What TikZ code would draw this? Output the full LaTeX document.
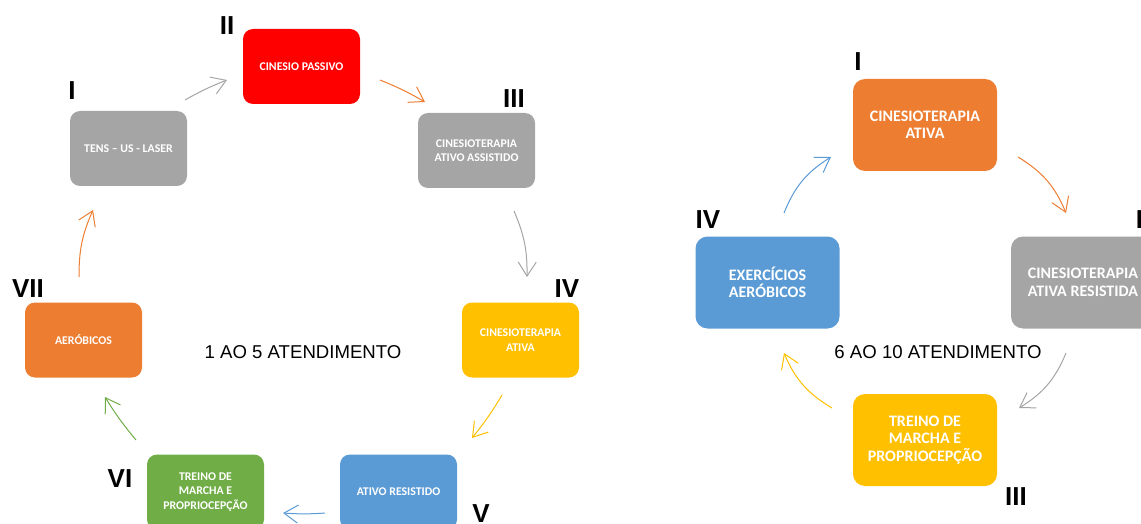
\documentclass[tikz,border=0pt]{standalone}
\usepackage{fontspec}
\setmainfont{Liberation Sans}
\newfontfamily\boxfont{Carlito}
\usetikzlibrary{arrows.meta}
\definecolor{cgray}{HTML}{A5A5A5}
\definecolor{cred}{HTML}{FF0000}
\definecolor{cyellow}{HTML}{FFC000}
\definecolor{cblue}{HTML}{5B9BD5}
\definecolor{cgreen}{HTML}{70AD47}
\definecolor{corange}{HTML}{ED7D31}
\tikzset{
  sbox/.style={rounded corners=10pt, minimum width=117pt, minimum height=75pt, inner sep=0pt,
    text=white, align=center, font=\boxfont\bfseries\fontsize{11.8}{14.5}\selectfont},
  bbox/.style={rounded corners=12pt, minimum width=144pt, minimum height=92pt, inner sep=0pt,
    text=white, align=center, font=\boxfont\bfseries\fontsize{16}{17.5}\selectfont},
  num/.style={font=\bfseries\fontsize{26}{26}\selectfont, inner sep=0pt},
  title/.style={font=\fontsize{18.6}{20}\selectfont, inner sep=0pt},
  conn/.style={line width=1pt, -{Straight Barb[length=14pt,width=18pt,line width=1pt]}},
}
\begin{document}
\begin{tikzpicture}[x=1pt,y=-1pt]
\useasboundingbox (0,0) rectangle (1141,524);
\clip (0,0) rectangle (1141,524);
% ---------- left cycle ----------
\node[sbox, fill=cgray]   (tens) at (128.5,148.5) {TENS – US - LASER};
\node[sbox, fill=cred]    (pass) at (301.5,66.5) {CINESIO PASSIVO};
\node[sbox, fill=cgray]   (assi) at (476.5,150.5) {CINESIOTERAPIA\\ATIVO ASSISTIDO};
\node[sbox, fill=cyellow] (ativ) at (520.5,340) {CINESIOTERAPIA\\ATIVA};
\node[sbox, fill=cblue]   (resi) at (398.5,492) {ATIVO RESISTIDO};
\node[sbox, fill=cgreen]  (trei) at (205.5,492) {TREINO DE\\MARCHA E\\PROPRIOCEPÇÃO};
\node[sbox, fill=corange] (aero) at (83.5,340) {AERÓBICOS};

\node[num] (nI)   at (72,91)   {I};
\node[num] (nII)  at (227,26)  {II};
\node[num] (nIII) at (514,99)  {III};
\node[num] (nIV)  at (567,289) {IV};
\node[num] (nV)   at (481,514) {V};
\node[num] (nVI)  at (120,479) {VI};
\node[num] (nVII) at (28,289)  {VII};

\node[title] (t1) at (303,352) {1 AO 5 ATENDIMENTO};

\coordinate (a1s) at (185,100); \coordinate (a1e) at (227,80);
\coordinate (a2s) at (380,80);  \coordinate (a2e) at (425,102);
\coordinate (a3s) at (514,211); \coordinate (a3e) at (527,277);
\coordinate (a4s) at (502,395); \coordinate (a4e) at (472,438);
\coordinate (a5s) at (325,513); \coordinate (a5e) at (283,513);
\coordinate (a6s) at (136,440); \coordinate (a6e) at (105,397);
\coordinate (a7s) at (79,277);  \coordinate (a7e) at (93,210);

\draw[conn, cgray]   (a1s) to[bend left=4] (a1e);
\draw[conn, corange] (a2s) to[bend left=4] (a2e);
\draw[conn, cgray]   (a3s) to[bend left=12] (a3e);
\draw[conn, cyellow] (a4s) to[bend left=4] (a4e);
\draw[conn, cblue]   (a5s) to[bend left=4] (a5e);
\draw[conn, cgreen]  (a6s) to[bend left=4] (a6e);
\draw[conn, corange] (a7s) to[bend left=12] (a7e);

% ---------- right cycle ----------
\node[bbox, fill=corange] (r1) at (925,125)  {CINESIOTERAPIA\\ATIVA};
\node[bbox, fill=cgray]   (r2) at (1083,282.5) {CINESIOTERAPIA\\ATIVA RESISTIDA};
\node[bbox, fill=cyellow] (r3) at (925,440)  {TREINO DE\\MARCHA E\\PROPRIOCEPÇÃO};
\node[bbox, fill=cblue]   (r4) at (767.5,282.5) {EXERCÍCIOS\\AERÓBICOS};

\node[num] (mI)   at (858,62)   {I};
\node[num] (mII)  at (1143,220) {II};
\node[num] (mIII) at (1016,497) {III};
\node[num] (mIV)  at (708,220)  {IV};

\node[title] (t2) at (938,352) {6 AO 10 ATENDIMENTO};

\coordinate (b1s) at (1018,157); \coordinate (b1e) at (1066,213);
\coordinate (b2s) at (1066,353); \coordinate (b2e) at (1019,408);
\coordinate (b3s) at (832,408);  \coordinate (b3e) at (784,353);
\coordinate (b4s) at (784,213);  \coordinate (b4e) at (831,157);

\draw[conn, corange] (b1s) to[bend left=18] (b1e);
\draw[conn, cgray]   (b2s) to[bend left=18] (b2e);
\draw[conn, cyellow] (b3s) to[bend left=18] (b3e);
\draw[conn, cblue]   (b4s) to[bend left=18] (b4e);
\end{tikzpicture}
\end{document}
